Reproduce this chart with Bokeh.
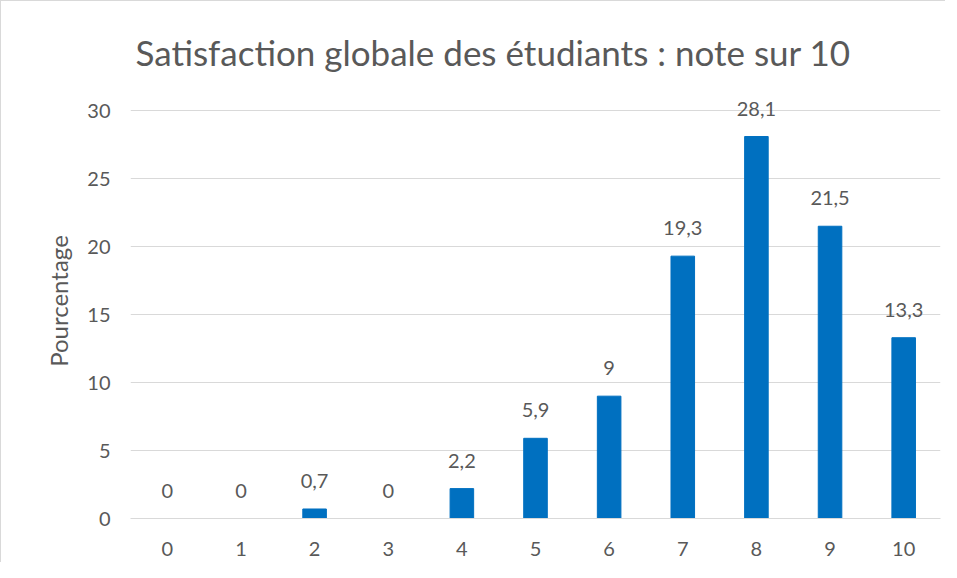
from bokeh.plotting import figure
from bokeh.models import ColumnDataSource, FixedTicker, Range1d
from bokeh.core.properties import value
from bokeh.embed import file_html
from bokeh.resources import INLINE

categories = ["0", "1", "2", "3", "4", "5", "6", "7", "8", "9", "10"]
percentages = [0, 0, 0.7, 0, 2.2, 5.9, 9, 19.3, 28.1, 21.5, 13.3]
y_ticks = [0, 5, 10, 15, 20, 25, 30]
title_text = "Satisfaction globale des étudiants : note sur 10"
y_label = "Pourcentage"

labels = [(("%.1f" % v).rstrip("0").rstrip(".")).replace(".", ",") for v in percentages]

FONT = "Lato"
GRAY = "#595959"

src = ColumnDataSource(dict(cat=categories, val=percentages, lab=labels))

p = figure(x_range=categories, y_range=Range1d(0, 32),
           width=945, height=562, output_backend="svg", toolbar_location=None,
           min_border_left=129, min_border_right=6, min_border_top=82, min_border_bottom=45)
p.styles = {"border-left": "1px solid #d9d9d9", "border-top": "1px solid #d9d9d9"}

p.vbar(x="cat", top="val", width=0.32, source=src, color="#0070C0")
p.text(x="cat", y="val", text="lab", source=src, text_align="center",
       text_baseline="alphabetic", y_offset=-28, text_font=value(FONT),
       text_font_size="20px", text_color=GRAY)

p.title.text = title_text
p.title.align = "left"
p.title.offset = 5
p.title.text_font = FONT
p.title.text_font_size = "35px"
p.title.text_font_style = "normal"
p.title.text_color = GRAY
p.title.standoff = 21

p.outline_line_color = None
p.xgrid.grid_line_color = None
p.ygrid.grid_line_color = "#d9d9d9"
p.ygrid.grid_line_width = 1

p.yaxis.ticker = FixedTicker(ticks=y_ticks)
p.yaxis.axis_line_color = None
p.yaxis.major_label_standoff = 20
p.yaxis.axis_label = y_label
p.yaxis.axis_label_standoff = 11
p.yaxis.axis_label_text_font = FONT
p.yaxis.axis_label_text_font_size = "24px"
p.yaxis.axis_label_text_font_style = "normal"
p.yaxis.axis_label_text_color = GRAY

p.xaxis.axis_line_color = "#d9d9d9"
p.xaxis.major_label_standoff = 23

for ax in (p.xaxis, p.yaxis):
    ax.major_tick_line_color = None
    ax.minor_tick_line_color = None
    ax.major_tick_out = 0
    ax.major_tick_in = 0
    ax.minor_tick_out = 0
    ax.major_label_text_font = FONT
    ax.major_label_text_font_size = "20px"
    ax.major_label_text_color = GRAY

open("out.html", "w").write(file_html(p, INLINE))
